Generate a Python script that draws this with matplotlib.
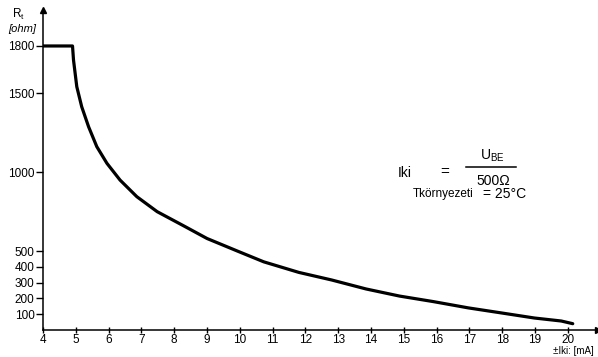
import matplotlib
matplotlib.use("Agg")
import matplotlib.pyplot as plt

# curve: current in mA, resistance in ohm
current_ma = [4.0, 4.9, 4.93, 5.03, 5.18, 5.39, 5.64, 5.95, 6.35, 6.86, 7.48,
              8.29, 9.0, 9.93, 10.73, 11.8, 12.8, 13.85, 14.87, 15.9, 16.97,
              17.98, 18.98, 19.8, 20.15]
resistance = [1800, 1800, 1711, 1542, 1415, 1288, 1162, 1056, 950, 845, 750,
              660, 580, 500, 432, 365, 317, 260, 215, 180, 140, 108, 76, 57, 40]

x_ticks = list(range(4, 21))
y_ticks = [100, 200, 300, 400, 500, 1000, 1500, 1800]

plt.rcParams['font.family'] = ['Liberation Sans', 'DejaVu Sans']

fig = plt.figure(figsize=(5.98, 3.57), dpi=100)
ax = fig.add_axes([43 / 598, 27 / 357, 555 / 598, 320 / 357])

ax.plot(current_ma, resistance, color='black', lw=2.3,
        solid_joinstyle='round', solid_capstyle='round')

ax.set_xlim(4, 20.92)
ax.set_ylim(0, 2028)
ax.spines['top'].set_visible(False)
ax.spines['right'].set_visible(False)
ax.spines['left'].set_linewidth(1.1)
ax.spines['bottom'].set_linewidth(1.1)

# axis arrows
ax.plot(1, 0, '>k', ms=5, transform=ax.transAxes, clip_on=False)
ax.plot(0, 1, '^k', ms=5, transform=ax.transAxes, clip_on=False)

ax.set_xticks(x_ticks)
ax.set_yticks(y_ticks)
ax.tick_params(axis='x', direction='inout', length=5, width=1, labelsize=8.5, pad=0.5)
ax.tick_params(axis='y', direction='out', length=5, width=1, labelsize=8.5, pad=1)

# axis titles
fig.text(12 / 598, 1 - 14 / 357, r'R$_\mathregular{t}$', fontsize=8.5, ha='left', va='center')
fig.text(8 / 598, 1 - 29 / 357, '[ohm]', fontsize=8, style='italic', ha='left', va='center')
fig.text(594 / 598, 1 / 357, '±Iki: [mA]', fontsize=7, ha='right', va='bottom')

# formula box
fig.text(398 / 598, 1 - 173 / 357, 'Iki', fontsize=10, ha='left', va='center')
fig.text(440 / 598, 1 - 172 / 357, '=', fontsize=11, ha='left', va='center')
fig.text(492 / 598, 1 - 156 / 357, r'U$_\mathregular{BE}$', fontsize=10, ha='center', va='center')
fig.add_artist(plt.Line2D([466 / 598, 516 / 598], [1 - 167 / 357, 1 - 167 / 357],
                          color='black', lw=1.1))
fig.text(493 / 598, 1 - 181 / 357, '500Ω', fontsize=10, ha='center', va='center')
fig.text(413 / 598, 1 - 194 / 357, 'Tkörnyezeti', fontsize=8.5, ha='left', va='center')
fig.text(483 / 598, 1 - 194 / 357, '= 25°C', fontsize=10, ha='left', va='center')

fig.savefig('out.png', dpi=100)
